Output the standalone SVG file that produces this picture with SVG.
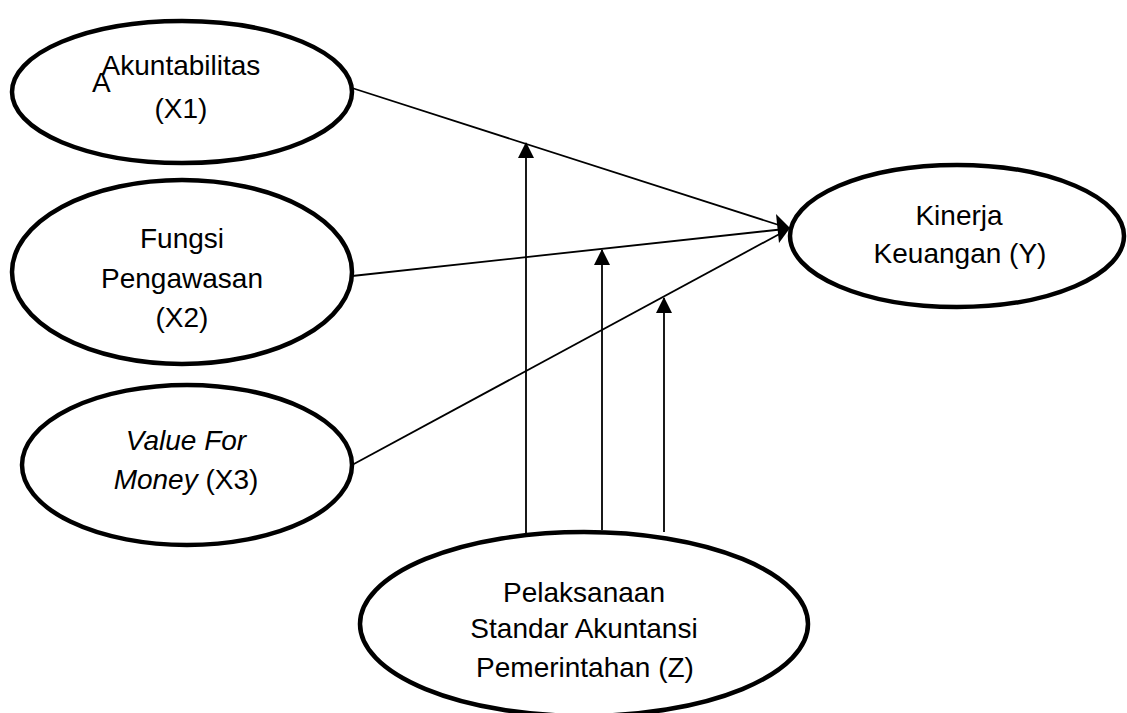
<svg xmlns="http://www.w3.org/2000/svg" width="1127" height="713" viewBox="0 0 1127 713">
<style>
.node{fill:#fff;stroke:#000;stroke-width:4.5}
.t{font-family:"Liberation Sans",Arial,sans-serif;font-size:28px;fill:#000;text-anchor:middle}
.c line{stroke:#000;stroke-width:1.8}
</style>
<defs>
<marker id="ah" markerUnits="userSpaceOnUse" markerWidth="16" markerHeight="16" viewBox="0 0 16 16" refX="15" refY="8" orient="auto">
<path d="M0,0 L16,8 L0,16 Z" fill="#000"/>
</marker>
</defs>
<rect width="1127" height="713" fill="#fff"/>
<g class="c" id="connectors">
<line x1="352" y1="88" x2="785" y2="227"/>
<line x1="352" y1="276" x2="785" y2="229"/>
<line x1="352" y1="465" x2="785" y2="231"/>
<polygon points="790,228 776,214 779,243" fill="#000"/>
<line x1="526" y1="543" x2="526" y2="143" marker-end="url(#ah)"/>
<line x1="602" y1="530" x2="602" y2="250" marker-end="url(#ah)"/>
<line x1="664" y1="532" x2="664" y2="298" marker-end="url(#ah)"/>
</g>
<g id="x1">
<ellipse class="node" cx="182" cy="92" rx="170" ry="71"/>
<text class="t" x="181" y="75">Akuntabilitas</text>
<text class="t" x="92" y="92" style="text-anchor:start">A</text>
<text class="t" x="181" y="118">(X1)</text>
</g>
<g id="x2">
<ellipse class="node" cx="182" cy="272" rx="170" ry="92"/>
<text class="t" x="182" y="248">Fungsi</text>
<text class="t" x="182" y="288">Pengawasan</text>
<text class="t" x="182" y="327">(X2)</text>
</g>
<g id="x3">
<ellipse class="node" cx="187" cy="465" rx="165" ry="80"/>
<text class="t" x="186" y="450" font-style="italic">Value For</text>
<text class="t" x="186" y="489"><tspan font-style="italic">Money</tspan> (X3)</text>
</g>
<g id="y">
<ellipse class="node" cx="957" cy="236" rx="167" ry="71"/>
<text class="t" x="959" y="225">Kinerja</text>
<text class="t" x="960" y="263">Keuangan (Y)</text>
</g>
<g id="z">
<ellipse class="node" cx="584" cy="624" rx="224" ry="92"/>
<text class="t" x="584" y="602">Pelaksanaan</text>
<text class="t" x="584" y="638">Standar Akuntansi</text>
<text class="t" x="585" y="677">Pemerintahan (Z)</text>
</g>
</svg>
